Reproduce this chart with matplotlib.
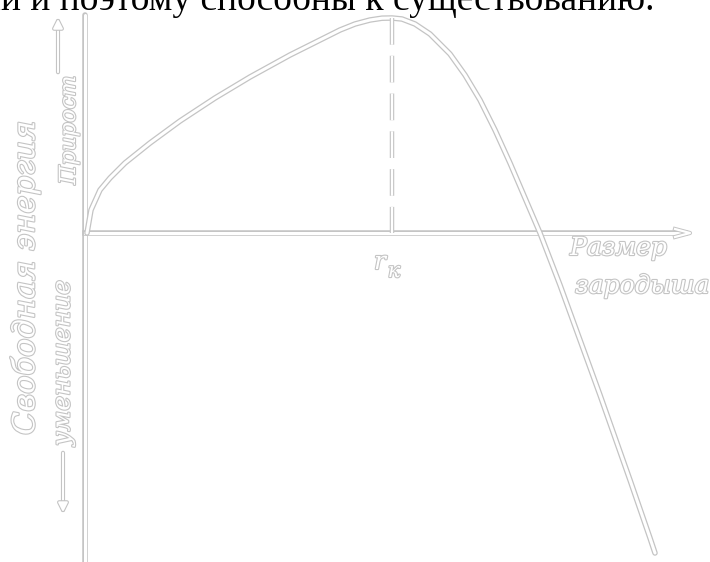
#!/usr/bin/env python3
# -*- coding: utf-8 -*-
"""Энергия образования зародыша в зависимости от его размера"""
import matplotlib
matplotlib.use("Agg")
import matplotlib.pyplot as plt
import matplotlib.patheffects as pe

# размер зародыша r и изменение свободной энергии (условные единицы, 1 = 100 px)
r_vals = [0.02, 0.06, 0.15, 0.25, 0.40, 0.65, 0.95, 1.30, 1.65, 2.05, 2.45,
          2.55, 2.70, 2.85, 2.97, 3.07, 3.17, 3.30, 3.45, 3.65, 3.80, 3.95,
          4.10, 4.25, 4.40, 4.55, 4.75, 5.15, 5.45, 5.65, 5.70]
g_vals = [0.0, 0.23, 0.43, 0.55, 0.70, 0.90, 1.12, 1.35, 1.56, 1.78, 1.98,
          2.03, 2.09, 2.13, 2.148, 2.15, 2.14, 2.09, 1.99, 1.79, 1.58, 1.33,
          1.03, 0.70, 0.35, 0.0, -0.52, -1.62, -2.47, -3.05, -3.20]
r_crit = 3.07
g_crit = 2.15

top_text = "ни и поэтому способны к существованию."
x_label = ["Размер", "зародыша"]
y_label = "Свободная энергия"
up_label = "Прирост"
down_label = "уменьшение"

GRAY = "#c4c4c4"
line_fx = [pe.Stroke(linewidth=4.0, foreground=GRAY), pe.Normal()]
text_fx = [pe.withStroke(linewidth=1.6, foreground=GRAY)]

fig = plt.figure(figsize=(7.10, 5.62), dpi=100)
ax = fig.add_axes([0, 0, 1, 1])
ax.set_xlim(-0.85, 6.25)
ax.set_ylim(-3.29, 2.33)
ax.axis("off")

# оси
ax.plot([0, 0], [-3.29, 2.18], color="white", lw=2.2, path_effects=line_fx,
        solid_capstyle="round")
ax.plot([0, 6.0], [0, 0], color="white", lw=2.2, path_effects=line_fx)
ax.plot([5.9, 6.05, 5.9], [0.04, 0, -0.04], color="white", lw=1.6,
        path_effects=[pe.Stroke(linewidth=3.0, foreground=GRAY), pe.Normal()])

# кривая
ax.plot(r_vals, g_vals, color="white", lw=2.2, path_effects=line_fx,
        solid_capstyle="round", solid_joinstyle="round")

# критический размер
ax.plot([r_crit, r_crit], [g_crit, 0], color="white", lw=1.6,
        linestyle=(0, (12, 5)),
        path_effects=[pe.Stroke(linewidth=3.2, foreground=GRAY), pe.Normal()])
ax.text(r_crit - 0.12, -0.18, "r", fontsize=18, style="italic",
        family="DejaVu Serif", color="white", path_effects=text_fx,
        ha="center", va="top")
ax.text(r_crit + 0.02, -0.29, "к", fontsize=15, style="italic",
        family="DejaVu Serif", color="white", path_effects=text_fx,
        ha="center", va="top")

# подписи оси абсцисс
ax.text(4.85, -0.04, x_label[0], fontsize=18, style="italic",
        family="DejaVu Serif", color="white", path_effects=text_fx,
        ha="left", va="top")
ax.text(4.9, -0.42, x_label[1], fontsize=18, style="italic",
        family="DejaVu Serif", color="white", path_effects=text_fx,
        ha="left", va="top")

# подписи оси ординат
ax.text(-0.6, -0.45, y_label, fontsize=22, style="italic", rotation=90,
        family="DejaVu Serif", color="white", path_effects=text_fx,
        ha="center", va="center")
ax.text(-0.16, 1.03, up_label, fontsize=16, style="italic", rotation=90,
        family="DejaVu Serif", color="white", path_effects=text_fx,
        ha="center", va="center")
ax.text(-0.22, -1.3, down_label, fontsize=18, style="italic", rotation=90,
        family="DejaVu Serif", color="white", path_effects=text_fx,
        ha="center", va="center")
arrow_fx = [pe.Stroke(linewidth=3.0, foreground=GRAY), pe.Normal()]
ax.annotate("", xy=(-0.27, 2.17), xytext=(-0.27, 1.58),
            arrowprops=dict(arrowstyle="-|>", color="white", lw=1.4,
                            mutation_scale=14, path_effects=arrow_fx))
ax.annotate("", xy=(-0.22, -2.82), xytext=(-0.22, -2.17),
            arrowprops=dict(arrowstyle="-|>", color="white", lw=1.4,
                            mutation_scale=14, path_effects=arrow_fx))

# обрезанная строка текста сверху
ax.text(-1.04, 2.23, top_text, fontsize=27, family="Liberation Serif",
        color="black", ha="left", va="baseline")

fig.savefig("out.png", dpi=100)
plt.close(fig)
